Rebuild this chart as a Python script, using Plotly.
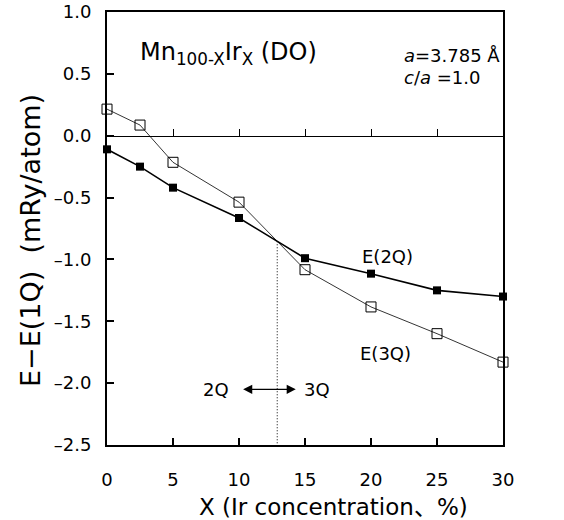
import plotly.graph_objects as go

x_conc = [0, 2.5, 5, 10, 15, 20, 25, 30]
e_2q = [-0.11, -0.25, -0.42, -0.665, -0.99, -1.115, -1.25, -1.30]
e_3q = [0.215, 0.086, -0.215, -0.537, -1.083, -1.384, -1.60, -1.83]
x_ticks = [0, 5, 10, 15, 20, 25, 30]
y_ticks = [1.0, 0.5, 0.0, -0.5, -1.0, -1.5, -2.0, -2.5]
y_tick_text = ["1.0", "0.5", "0.0", "–0.5", "–1.0", "–1.5", "–2.0", "–2.5"]

FONT = "DejaVu Sans, Noto Sans CJK JP, sans-serif"

W, H = 564, 520
L, T, R, B = 107, 12, 61, 75

# intersection of the two curves between x=10 and x=15
i = 3
d0 = e_3q[i] - e_2q[i]
d1 = e_3q[i + 1] - e_2q[i + 1]
t = d0 / (d0 - d1)
xc = x_conc[i] + t * (x_conc[i + 1] - x_conc[i])
yc = e_2q[i] + t * (e_2q[i + 1] - e_2q[i])

fig = go.Figure()
fig.add_trace(go.Scatter(
    x=x_conc, y=e_3q, mode="lines+markers", cliponaxis=False,
    line=dict(color="black", width=0.8),
    marker=dict(symbol="square-open", size=10, color="black", line=dict(width=1)),
    showlegend=False))
fig.add_trace(go.Scatter(
    x=x_conc, y=e_2q, mode="lines+markers", cliponaxis=False,
    line=dict(color="black", width=1.6),
    marker=dict(symbol="square", size=8, color="black"),
    showlegend=False))
# invisible trace to hold the zero-line axis
fig.add_trace(go.Scatter(x=[0, 30], y=[0, 0], xaxis="x2", mode="lines",
                         line=dict(width=0), hoverinfo="skip", showlegend=False))

fig.add_shape(type="line", x0=xc, x1=xc, y0=yc, y1=-2.5,
              line=dict(color="black", width=1, dash="1px,2px"))

tickfont = dict(family=FONT, size=18, color="black")
fig.update_layout(
    width=W, height=H,
    margin=dict(l=L, r=R, t=T, b=B),
    paper_bgcolor="white", plot_bgcolor="white",
    xaxis=dict(range=[0, 30], tickvals=x_ticks, ticktext=[str(v) for v in x_ticks],
               ticks="inside", ticklen=7, tickwidth=1.5, tickcolor="black",
               showline=True, linecolor="black", linewidth=2, mirror=True,
               showgrid=False, zeroline=False, tickfont=tickfont,
               ticklabelstandoff=17, automargin=False),
    xaxis2=dict(range=[0, 30], overlaying="x", anchor="free", position=2.5 / 3.5,
                side="bottom", tickvals=x_ticks[1:-1], ticks="inside", ticklen=7,
                tickwidth=1.2, tickcolor="black", showticklabels=False,
                showline=True, linecolor="black", linewidth=1.2, automargin=False,
                showgrid=False, zeroline=False),
    yaxis=dict(range=[-2.5, 1.0], tickvals=y_ticks, ticktext=y_tick_text,
               ticks="inside", ticklen=7, tickwidth=1.5, tickcolor="black",
               showline=True, linecolor="black", linewidth=2, mirror=True,
               showgrid=False, zeroline=False, tickfont=tickfont,
               ticklabelstandoff=10, automargin=False),
)

pw, ph = W - L - R, H - T - B


def px(xpix):
    return (xpix - L) / pw


def py(ypix):
    return (H - B - ypix) / ph


# axis titles (placed as in the original, slightly off-centre)
fig.add_annotation(xref="paper", yref="paper", x=px(333), y=py(507),
                   xanchor="center", yanchor="middle", showarrow=False,
                   text="X (Ir concentration、%)",
                   font=dict(family=FONT, size=23, color="black"))
fig.add_annotation(xref="paper", yref="paper", x=px(30), y=py(241),
                   xanchor="center", yanchor="middle", showarrow=False, textangle=-90,
                   text="E−E(1Q)\u00a0\u00a0(mRy/atom)",
                   font=dict(family=FONT, size=27, color="black"))

ann_font = dict(family=FONT, size=18, color="black")
fig.add_annotation(xref="paper", yref="paper", x=px(138), y=py(53),
                   xanchor="left", yanchor="middle", showarrow=False,
                   text="Mn<sub>100-X</sub>Ir<sub>X</sub> (DO)",
                   font=dict(family=FONT, size=24, color="black"))
fig.add_annotation(xref="paper", yref="paper", x=px(402), y=py(55),
                   xanchor="left", yanchor="middle", showarrow=False,
                   text="<i>a</i>=3.785 Å", font=ann_font)
fig.add_annotation(xref="paper", yref="paper", x=px(402), y=py(77),
                   xanchor="left", yanchor="middle", showarrow=False,
                   text="<i>c</i>/<i>a</i> =1.0", font=ann_font)
fig.add_annotation(x=19.2, y=-0.98, xanchor="left", yanchor="middle", showarrow=False,
                   text="E(2Q)", font=ann_font)
fig.add_annotation(x=19.0, y=-1.76, xanchor="left", yanchor="middle", showarrow=False,
                   text="E(3Q)", font=ann_font)
fig.add_annotation(x=9.4, y=-2.05, xanchor="right", yanchor="middle", showarrow=False,
                   text="2Q", font=ann_font)
fig.add_annotation(x=14.8, y=-2.05, xanchor="left", yanchor="middle", showarrow=False,
                   text="3Q", font=ann_font)
fig.add_annotation(x=14.3, y=-2.05, ax=10.2, ay=-2.05, axref="x", ayref="y",
                   xref="x", yref="y", text="", showarrow=True,
                   arrowhead=2, arrowside="end+start", arrowsize=1.4, arrowwidth=1.3,
                   arrowcolor="black", standoff=0, startstandoff=0)

# remove the page's default body margin so the figure fills the 564x520 window
fig.write_html("out.html", config={"displayModeBar": False},
               post_script="document.body.style.margin='0';")
